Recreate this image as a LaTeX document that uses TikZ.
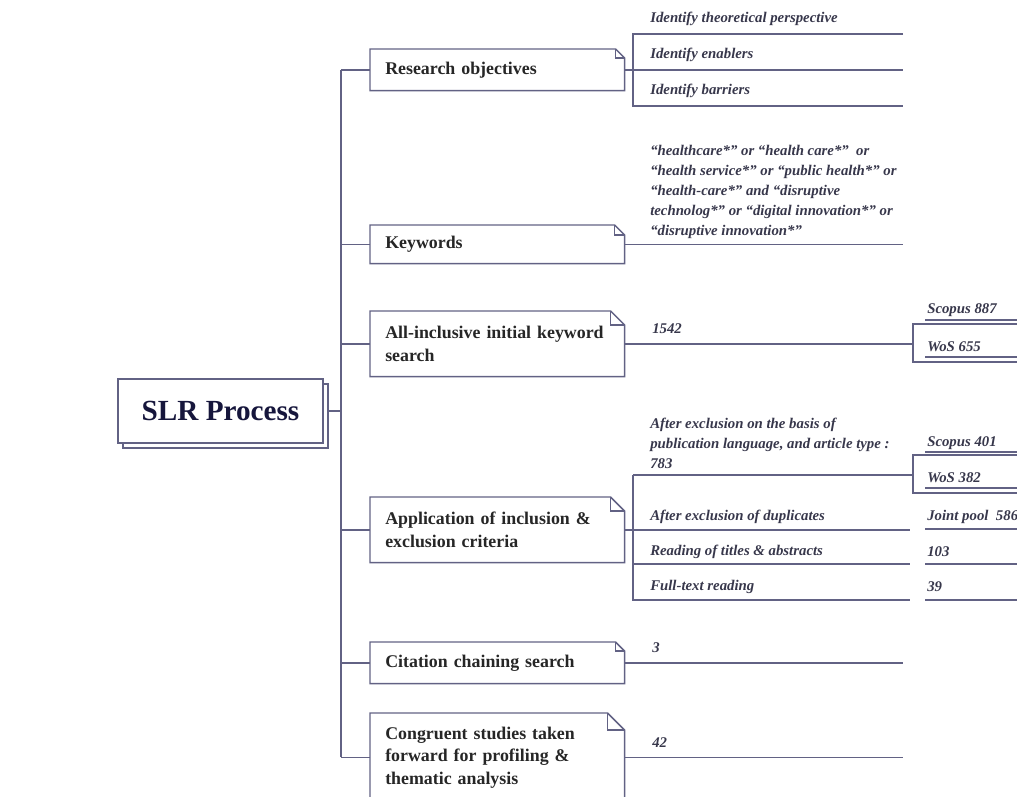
\documentclass[tikz,border=0pt]{standalone}
\usepackage{fontspec}
\setmainfont{Liberation Serif}
\usepackage{tikz}
\definecolor{lnkcol}{RGB}{98,98,132}
\definecolor{boxtxt}{RGB}{38,38,38}
\definecolor{notetxt}{RGB}{55,55,75}
\definecolor{slrtxt}{RGB}{22,22,60}

\begin{document}
\begin{tikzpicture}[x=0.75pt,y=0.75pt,yscale=-1,xscale=1,
    lnk/.style={draw=lnkcol, line width=1.1pt},
    procbox/.style={anchor=north west, text width=168pt, inner xsep=11.25pt, inner ysep=0pt, align=left, text=boxtxt, font=\fontsize{13.4}{16.9}\selectfont\bfseries},
    note/.style={anchor=west, inner sep=0pt, align=left, text=notetxt, font=\fontsize{11.1}{15}\selectfont\bfseries\itshape},
    slrbox/.style={draw=lnkcol, line width=1.1pt, fill=white, minimum width=153.75pt, minimum height=48pt, inner sep=0pt, text=slrtxt, font=\fontsize{21.9}{26}\selectfont\bfseries}]
    \useasboundingbox (0,0) rectangle (1017,796);
    \clip (0,0) rectangle (1017,796);

    % Title box with its shadow
    \node[slrbox] (slrs) at (225.5,416) {};
    \node[slrbox] (slr) at (220.5,411) {SLR Process};

    % Process boxes
    \node[procbox, minimum height=30.75pt] (ro) at (370,49) {Research objectives};
    \node[procbox, minimum height=28.5pt] (kw) at (370,225) {Keywords};
    \node[procbox, minimum height=48.75pt] (ai) at (370,311) {All-inclusive initial keyword\\search};
    \node[procbox, minimum height=48.75pt] (ap) at (370,497) {Application of inclusion \&\\exclusion criteria};
    \node[procbox, minimum height=30.75pt] (cc) at (370,642) {Citation chaining search};
    \node[procbox, minimum height=66pt] (cg) at (370,713) {Congruent studies taken\\forward for profiling \&\\thematic analysis};

    % Folded outlines
    \draw[lnk] (ro.north west) -- ([shift={(-9,0)}]ro.north east) -- ([shift={(0,9)}]ro.north east) -- (ro.south east) -- (ro.south west) -- cycle;
    \draw[lnk] ([shift={(-9,0)}]ro.north east) |- ([shift={(0,9)}]ro.north east);
    \draw[lnk] (kw.north west) -- ([shift={(-10,0)}]kw.north east) -- ([shift={(0,10)}]kw.north east) -- (kw.south east) -- (kw.south west) -- cycle;
    \draw[lnk] ([shift={(-10,0)}]kw.north east) |- ([shift={(0,10)}]kw.north east);
    \draw[lnk] (ai.north west) -- ([shift={(-14,0)}]ai.north east) -- ([shift={(0,14)}]ai.north east) -- (ai.south east) -- (ai.south west) -- cycle;
    \draw[lnk] ([shift={(-14,0)}]ai.north east) |- ([shift={(0,14)}]ai.north east);
    \draw[lnk] (ap.north west) -- ([shift={(-14,0)}]ap.north east) -- ([shift={(0,14)}]ap.north east) -- (ap.south east) -- (ap.south west) -- cycle;
    \draw[lnk] ([shift={(-14,0)}]ap.north east) |- ([shift={(0,14)}]ap.north east);
    \draw[lnk] (cc.north west) -- ([shift={(-9,0)}]cc.north east) -- ([shift={(0,9)}]cc.north east) -- (cc.south east) -- (cc.south west) -- cycle;
    \draw[lnk] ([shift={(-9,0)}]cc.north east) |- ([shift={(0,9)}]cc.north east);
    \draw[lnk] (cg.north west) -- ([shift={(-17,0)}]cg.north east) -- ([shift={(0,17)}]cg.north east) -- (cg.south east) -- (cg.south west) -- cycle;
    \draw[lnk] ([shift={(-17,0)}]cg.north east) |- ([shift={(0,17)}]cg.north east);

    % Spine and branches
    \coordinate (sp) at (341,411);
    \draw[lnk] (ro.west -| sp) -- (cg.west -| sp);
    \draw[lnk] (slrs.east |- slr.east) -- (slr.east -| sp);
    \draw[lnk] (ro.west) -- (ro.west -| sp);
    \draw[lnk] (kw.west) -- (kw.west -| sp);
    \draw[lnk] (ai.west) -- (ai.west -| sp);
    \draw[lnk] (ap.west) -- (ap.west -| sp);
    \draw[lnk] (cc.west) -- (cc.west -| sp);
    \draw[lnk] (cg.west) -- (cg.west -| sp);

    % Research objectives
    \coordinate (roT) at (633,34);
    \coordinate (roB) at (633,106);
    \coordinate (roTe) at (903,34);
    \coordinate (roBe) at (903,106);
    \draw[lnk] (ro.east) -- (ro.east -| roTe);
    \draw[lnk] (roTe) -- (roT) -- (roB) -- (roBe);
    \node[note] (ro1) at (650,19) {Identify theoretical perspective};
    \node[note] (ro2) at (650,55) {Identify enablers};
    \node[note] (ro3) at (650,91) {Identify barriers};

    % Keywords
    \draw[lnk] (kw.east) -- (kw.east -| roTe);
    \node[note] (kwq) at (650,192) {“healthcare*” or “health care*”\ \ or\\“health service*” or “public health*” or\\“health-care*” and “disruptive\\technolog*” or “digital innovation*” or\\“disruptive innovation*”};

    % Initial search
    \coordinate (aiT) at (913,324);
    \coordinate (aiB) at (913,362);
    \coordinate (aiTe) at (1017,324);
    \coordinate (aiBe) at (1017,362);
    \coordinate (aiU1) at (925,320);
    \coordinate (aiU2) at (925,357);
    \draw[lnk] (ai.east) -- (ai.east -| aiT);
    \draw[lnk] (aiTe) -- (aiT) -- (aiB) -- (aiBe);
    \draw[lnk] (aiU1) -- (aiU1 -| aiTe);
    \draw[lnk] (aiU2) -- (aiU2 -| aiTe);
    \node[note] (ain) at (652,329) {1542};
    \node[note] (ais) at (927,310) {Scopus 887};
    \node[note] (aiw) at (927,347) {WoS 655};

    % Inclusion and exclusion
    \coordinate (apT) at (633,475);
    \coordinate (apB) at (633,600);
    \coordinate (apR) at (633,564);
    \coordinate (apM) at (913,475);
    \coordinate (apBt) at (913,455);
    \coordinate (apBb) at (913,493);
    \coordinate (apE) at (910,600);
    \draw[lnk] (apT) -- (apB) -- (apE);
    \draw[lnk] (apT) -- (apM);
    \draw[lnk] (apBt -| aiTe) -- (apBt) -- (apBb) -- (apBb -| aiTe);
    \draw[lnk] (ap.east) -- (ap.east -| apE);
    \draw[lnk] (apR) -- (apR -| apE);
    \coordinate (apU1) at (925,452);
    \coordinate (apU2) at (925,488);
    \coordinate (apU3) at (925,529);
    \coordinate (apU4) at (925,564);
    \coordinate (apU5) at (925,600);
    \draw[lnk] (apU1) -- (apU1 -| aiTe);
    \draw[lnk] (apU2) -- (apU2 -| aiTe);
    \draw[lnk] (apU3) -- (apU3 -| aiTe);
    \draw[lnk] (apU4) -- (apU4 -| aiTe);
    \draw[lnk] (apU5) -- (apU5 -| aiTe);
    \node[note] (ap1) at (650,443.5) {After exclusion on the basis of\\publication language, and article type :\\783};
    \node[note] (ap2) at (650,517) {After exclusion of duplicates};
    \node[note] (ap3) at (650,552) {Reading of titles \& abstracts};
    \node[note] (ap4) at (650,587) {Full-text reading};
    \node[note] (ap5) at (927,443) {Scopus 401};
    \node[note] (ap6) at (927,478) {WoS 382};
    \node[note] (ap7) at (927,517) {Joint pool\ \ 586};
    \node[note] (ap8) at (927,552) {103};
    \node[note] (ap9) at (927,587) {39};

    % Citation chaining and final set
    \draw[lnk] (cc.east) -- (cc.east -| roTe);
    \node[note] (ccn) at (652,648) {3};
    \draw[lnk] (cg.east) -- (cg.east -| roTe);
    \node[note] (cgn) at (652,743) {42};
\end{tikzpicture}
\end{document}
